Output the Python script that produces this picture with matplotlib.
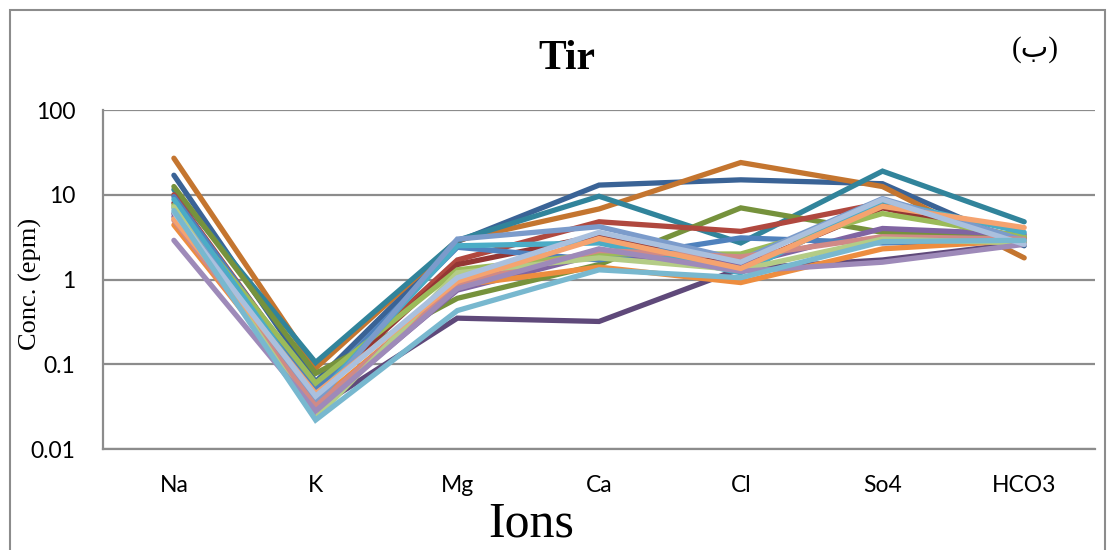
import matplotlib.pyplot as plt
import matplotlib.patches as patches
from matplotlib.ticker import FixedLocator, FixedFormatter, NullLocator

# ions on the x axis
ions = ["Na", "K", "Mg", "Ca", "Cl", "So4", "HCO3"]

# concentration (epm) per sample, in the order of `ions`
s01 = [17.0, 0.062, 2.8, 13.0, 15.0, 13.5, 2.5]
s02 = [27.0, 0.090, 2.9, 6.8, 24.0, 12.5, 1.8]
s03 = [11.5, 0.105, 2.9, 9.6, 2.7, 19.0, 4.8]
s04 = [12.5, 0.078, 0.60, 1.5, 7.0, 3.6, 3.2]
s05 = [10.0, 0.050, 1.7, 4.8, 3.7, 8.0, 3.0]
s06 = [8.0, 0.045, 1.5, 3.3, 1.4, 7.0, 3.0]
s07 = [6.0, 0.030, 0.35, 0.32, 1.35, 1.7, 2.7]
s08 = [5.5, 0.030, 0.75, 2.0, 1.5, 4.0, 3.4]
s09 = [9.5, 0.050, 2.4, 1.7, 3.1, 2.7, 2.9]
s10 = [7.5, 0.060, 1.3, 2.0, 2.0, 6.0, 3.2]
s11 = [8.8, 0.040, 2.5, 2.7, 1.2, 8.5, 3.6]
s12 = [4.4, 0.035, 0.85, 1.4, 0.92, 2.3, 2.9]
s13 = [7.0, 0.035, 3.0, 4.2, 1.7, 9.0, 2.9]
s14 = [5.0, 0.032, 0.90, 2.2, 1.85, 3.2, 3.0]
s15 = [7.2, 0.023, 1.2, 1.8, 1.3, 3.0, 2.7]
s16 = [2.9, 0.028, 0.78, 2.3, 1.25, 1.6, 2.6]
s17 = [5.2, 0.045, 0.95, 3.05, 1.35, 7.3, 4.1]
s18 = [6.2, 0.042, 1.05, 3.6, 1.6, 8.8, 2.6]
s19 = [6.5, 0.022, 0.43, 1.3, 1.05, 2.8, 2.9]

samples = [s01, s02, s03, s04, s05, s06, s07, s08, s09, s10,
           s11, s12, s13, s14, s15, s16, s17, s18, s19]
colors = ["#3A6396", "#C4752F", "#31849B", "#76923C", "#B0483F", "#943634",
          "#5F497A", "#8064A2", "#4F81BD", "#9BBB59", "#4BACC6", "#ED8D3F",
          "#7B9BCB", "#D08A87", "#B4CC86", "#9E8AB9", "#F5A36F", "#AAC0DE",
          "#78B8CF"]

fig = plt.figure(figsize=(11.14, 5.5), dpi=100)
ax = fig.add_axes([0.0925, 0.1836, 0.8905, 0.6164])

x = range(len(ions))
for vals, c in zip(samples, colors):
    ax.plot(x, vals, color=c, linewidth=3.8, solid_capstyle="round",
            solid_joinstyle="miter", zorder=3)

ax.set_yscale("log")
ax.set_ylim(0.01, 100)
ax.set_xlim(-0.5, len(ions) - 0.5)

yt = [0.01, 0.1, 1, 10, 100]
ax.yaxis.set_major_locator(FixedLocator(yt))
ax.yaxis.set_major_formatter(FixedFormatter(["0.01", "0.1", "1", "10", "100"]))
ax.yaxis.set_minor_locator(NullLocator())
ax.set_xticks(list(x))
ax.set_xticklabels(ions)

ax.grid(axis="y", color="#8C8C8C", linewidth=1.6, zorder=0)
for s in ["top", "right"]:
    ax.spines[s].set_visible(False)
for s in ["left", "bottom"]:
    ax.spines[s].set_color("#8C8C8C")
    ax.spines[s].set_linewidth(1.6)

ax.tick_params(axis="x", length=0, pad=19, labelsize=16.5)
ax.tick_params(axis="y", length=0, pad=20, labelsize=16.5)
for lab in ax.get_xticklabels() + ax.get_yticklabels():
    lab.set_fontfamily("Lato")

fig.text(0.509, 0.893, "Tir", ha="center", va="center",
         fontsize=30, fontweight="bold", family="Liberation Serif")
fig.text(0.929, 0.91, "(ب)", ha="center", va="center",
         fontsize=21, family=["Liberation Serif", "DejaVu Sans"])
fig.text(0.027, 0.483, "Conc. (epm)", rotation=90, ha="center", va="center",
         fontsize=19, family="Liberation Serif")
fig.text(0.477, 0.047, "Ions", ha="center", va="center",
         fontsize=36, family="Liberation Serif")

# outer chart frame
fig.patches.append(patches.Rectangle((0.009, -0.05), 0.983, 1.032,
                                     transform=fig.transFigure, fill=False,
                                     edgecolor="#8C8C8C", linewidth=1.5))

fig.savefig("out.png", dpi=100)
